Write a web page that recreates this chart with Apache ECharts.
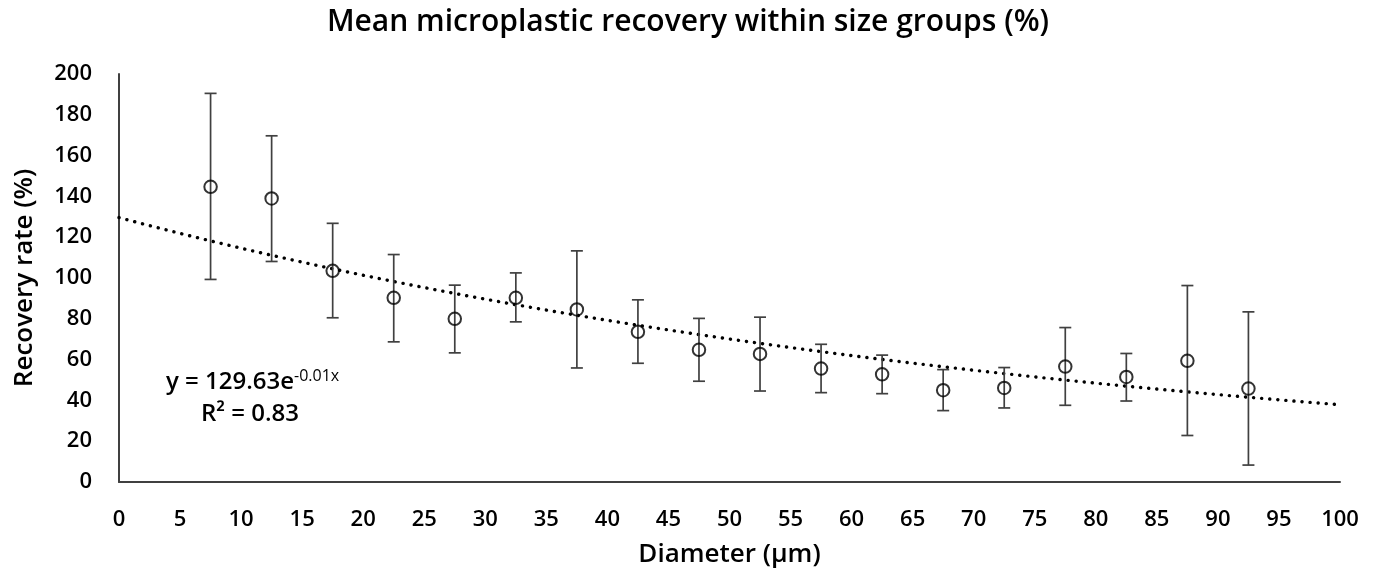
<!DOCTYPE html>
<html>
<head>
<meta charset="utf-8">
<script src="https://cdn.jsdelivr.net/npm/echarts@6/dist/echarts.min.js"></script>
<style>
html,body{margin:0;padding:0;background:#fff;}
#main{width:1376px;height:573px;}
</style>
</head>
<body>
<div id="main"></div>
<script>
// Data
var diameters = [7.5, 12.5, 17.5, 22.5, 27.5, 32.5, 37.5, 42.5, 47.5, 52.5, 57.5, 62.5, 67.5, 72.5, 77.5, 82.5, 87.5, 92.5];
var meanRecovery = [144.7, 139.0, 103.5, 90.3, 80.0, 90.3, 84.6, 73.6, 64.8, 62.8, 55.6, 52.8, 45.0, 46.1, 56.6, 51.5, 59.4, 45.8];
var errLow = [99.3, 108.1, 80.5, 68.7, 63.3, 78.5, 55.9, 58.2, 49.4, 44.6, 43.8, 43.3, 35.0, 36.3, 37.6, 39.7, 22.8, 8.3];
var errHigh = [190.5, 169.7, 126.8, 111.5, 96.5, 102.5, 113.3, 89.3, 80.2, 80.8, 67.5, 62.2, 55.1, 56.1, 75.7, 63.0, 96.3, 83.4];
var xTicks = [0, 5, 10, 15, 20, 25, 30, 35, 40, 45, 50, 55, 60, 65, 70, 75, 80, 85, 90, 95, 100];
var yTicks = [0, 20, 40, 60, 80, 100, 120, 140, 160, 180, 200];

// Exponential least-squares fit (as a spreadsheet trendline does)
function expFit(xs, ys) {
  var n = xs.length, mx = 0, my = 0;
  for (var i = 0; i < n; i++) { mx += xs[i]; my += Math.log(ys[i]); }
  mx /= n; my /= n;
  var sxy = 0, sxx = 0;
  for (var j = 0; j < n; j++) { sxy += (xs[j] - mx) * (Math.log(ys[j]) - my); sxx += (xs[j] - mx) * (xs[j] - mx); }
  var b = sxy / sxx;
  return { a: Math.exp(my - b * mx), b: b };
}
var fit = expFit(diameters, meanRecovery);
var trendData = [];
for (var k = 0; k <= 200; k++) { var xv = k * 0.5; trendData.push([xv, fit.a * Math.exp(fit.b * xv)]); }

var pointData = diameters.map(function (d, i) { return [d, meanRecovery[i]]; });
var errData = diameters.map(function (d, i) { return [d, errLow[i], errHigh[i]]; });

var FONT = "'Open Sans', Roboto, 'DejaVu Sans', sans-serif";
var FW = 600;

var chart = echarts.init(document.getElementById('main'), null, { renderer: 'canvas' });
chart.setOption({
  animation: false,
  backgroundColor: '#fff',
  title: {
    text: 'Mean microplastic recovery within size groups (%)',
    left: 'center', top: 2,
    textStyle: { fontFamily: FONT, fontSize: 30, fontWeight: FW, color: '#000' }
  },
  grid: { left: 119, right: 36, top: 74, bottom: 91 },
  xAxis: {
    type: 'value', min: 0, max: 100, interval: 5,
    name: 'Diameter (µm)', nameLocation: 'middle', nameGap: 60,
    nameTextStyle: { fontFamily: FONT, fontSize: 26, fontWeight: FW, color: '#000' },
    axisLine: { show: true, lineStyle: { color: '#404040', width: 2 } },
    axisTick: { show: false },
    splitLine: { show: false },
    axisLabel: { fontFamily: FONT, fontSize: 22, fontWeight: FW, color: '#000', margin: 27,
      formatter: function (v) { return xTicks.indexOf(v) >= 0 ? String(v) : ''; } }
  },
  yAxis: {
    type: 'value', min: 0, max: 200, interval: 20,
    name: 'Recovery rate (%)', nameLocation: 'middle', nameGap: 81, nameRotate: 90,
    nameTextStyle: { fontFamily: FONT, fontSize: 26, fontWeight: FW, color: '#000' },
    axisLine: { show: true, lineStyle: { color: '#404040', width: 2 } },
    axisTick: { show: false },
    splitLine: { show: false },
    axisLabel: { fontFamily: FONT, fontSize: 22, fontWeight: FW, color: '#000', margin: 27,
      formatter: function (v) { return yTicks.indexOf(v) >= 0 ? String(v) : ''; } }
  },
  graphic: [{
    type: 'text', left: 166, top: 368, z: 100,
    style: {
      text: '{b|y = 129.63e}{s|-0.01x}',
      rich: {
        b: { fontFamily: FONT, fontSize: 24, fontWeight: FW, fill: '#000', verticalAlign: 'bottom' },
        s: { fontFamily: FONT, fontSize: 16, fontWeight: 400, fill: '#000', verticalAlign: 'top', padding: [0, 0, 10, 0] }
      }
    }
  }, {
    type: 'text', left: 201, top: 402, z: 100,
    style: { text: 'R² = 0.83', fontFamily: FONT, fontSize: 24, fontWeight: FW, fill: '#000' }
  }],
  series: [{
    type: 'line', name: 'trend', data: trendData, showSymbol: false, symbol: 'none',
    lineStyle: { color: '#000', width: 3.4, type: [0.1, 8], cap: 'round' }, z: 2, silent: true
  }, {
    type: 'custom', name: 'err', data: errData, z: 3,
    renderItem: function (params, api) {
      var x = api.value(0);
      var lo = api.coord([x, api.value(1)]);
      var hi = api.coord([x, api.value(2)]);
      var hw = 6;
      var st = { stroke: '#404040', lineWidth: 1.7 };
      return { type: 'group', children: [
        { type: 'line', shape: { x1: lo[0], y1: lo[1], x2: hi[0], y2: hi[1] }, style: st },
        { type: 'line', shape: { x1: lo[0] - hw, y1: lo[1], x2: lo[0] + hw, y2: lo[1] }, style: st },
        { type: 'line', shape: { x1: hi[0] - hw, y1: hi[1], x2: hi[0] + hw, y2: hi[1] }, style: st }
      ] };
    }
  }, {
    type: 'scatter', name: 'mean', data: pointData, symbol: 'circle', symbolSize: 12.5, z: 4,
    itemStyle: { color: 'rgba(255,255,255,0)', borderColor: '#000', borderWidth: 2 }
  }]
});
</script>
</body>
</html>
